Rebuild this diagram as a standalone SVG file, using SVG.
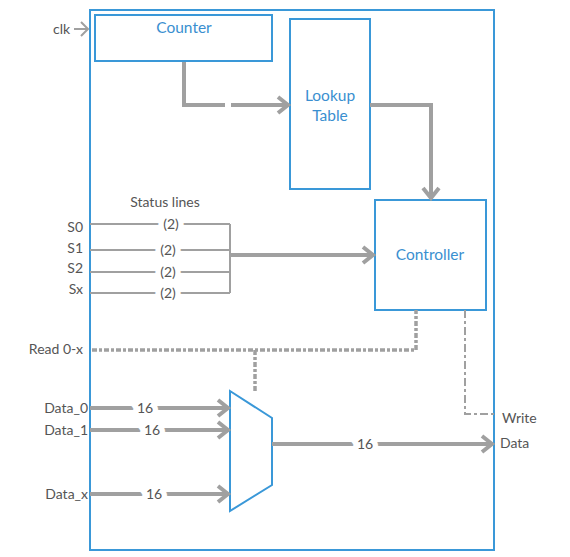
<svg xmlns="http://www.w3.org/2000/svg" width="570" height="557" viewBox="0 0 570 557">
<style>
.box{fill:none;stroke:#3a98d8;stroke-width:2}
.nl{font-family:Lato,"Noto Sans","Liberation Sans",sans-serif;font-size:15.5px;fill:#3a8fd0;text-anchor:middle}
.t{font-family:Lato,"Noto Sans","Liberation Sans",sans-serif;font-size:14px;fill:#555}
.r{text-anchor:end}
.m{text-anchor:middle}
.w{stroke:#fff;stroke-width:11;paint-order:stroke}
.thick{fill:none;stroke:#a0a0a0;stroke-width:4}
.thin{fill:none;stroke:#a0a0a0;stroke-width:2}
.dd{fill:none;stroke:#a0a0a0;stroke-width:3.5;stroke-dasharray:5 2 3 2}
.dd2{fill:none;stroke:#a0a0a0;stroke-width:2;stroke-dasharray:8 3 3 3}
</style>
<defs>
<marker id="a" markerUnits="userSpaceOnUse" markerWidth="16" markerHeight="22" refX="12" refY="10" orient="auto" overflow="visible">
<path d="M2,2 L12,10 L2,18" fill="none" stroke="#a0a0a0" stroke-width="4"/>
</marker>
<marker id="s" markerUnits="userSpaceOnUse" markerWidth="12" markerHeight="16" refX="9" refY="8" orient="auto" overflow="visible">
<path d="M2,1 L9,8 L2,15" fill="none" stroke="#a0a0a0" stroke-width="2"/>
</marker>
</defs>
<g id="outer"><rect class="box" x="90" y="10" width="404" height="540"/></g>
<g id="counter"><rect class="box" x="95" y="15" width="177" height="46"/><text class="nl" x="184" y="33">Counter</text></g>
<g id="lookup"><rect class="box" x="290" y="19" width="80" height="170"/><text class="nl" x="330" y="101">Lookup</text><text class="nl" x="330" y="121">Table</text></g>
<g id="controller"><rect class="box" x="375" y="200" width="111" height="110"/><text class="nl" x="430" y="260">Controller</text></g>
<g id="mux"><polygon class="box" points="230,391 272,418 272,485 230,511"/></g>
<g id="connectors">
<path class="thin" d="M74,29 H88" marker-end="url(#s)"/>
<path class="thick" d="M184,62 V105 H225"/>
<path class="thick" d="M231,105 H288" marker-end="url(#a)"/>
<path class="thick" d="M370,105 H431 V198" marker-end="url(#a)"/>
<path class="thin" d="M90,224 H230 M90,250 H230 M90,272 H230 M90,293 H230 M230,224 V293"/>
<path class="thick" d="M230,255 H373" marker-end="url(#a)"/>
<path class="dd" d="M92,350 H416 V310"/>
<path class="dd" d="M255,350 V393"/>
<path class="dd2" d="M465,310 V414 H494"/>
<path class="thick" d="M90,408 H228" marker-end="url(#a)"/>
<path class="thick" d="M90,430 H228" marker-end="url(#a)"/>
<path class="thick" d="M90,494 H228" marker-end="url(#a)"/>
<path class="thick" d="M272,444 H492" marker-end="url(#a)"/>
</g>
<g id="labels">
<text class="t" x="53" y="34">clk</text>
<text class="t m" x="165" y="207">Status lines</text>
<text class="t r" x="83" y="232">S0</text>
<text class="t r" x="83" y="253">S1</text>
<text class="t r" x="83" y="273">S2</text>
<text class="t r" x="83" y="294">Sx</text>
<text class="t m w" x="171" y="229">(2)</text>
<text class="t m w" x="168" y="255">(2)</text>
<text class="t m w" x="168" y="277">(2)</text>
<text class="t m w" x="168" y="298">(2)</text>
<text class="t r" x="83" y="354">Read 0-x</text>
<text class="t r" x="88" y="413">Data_0</text>
<text class="t r" x="88" y="435">Data_1</text>
<text class="t r" x="88" y="499">Data_x</text>
<text class="t m w" x="145" y="413">16</text>
<text class="t m w" x="152" y="435">16</text>
<text class="t m w" x="154" y="499">16</text>
<text class="t m w" x="365" y="449">16</text>
<text class="t" x="502" y="423">Write</text>
<text class="t" x="500" y="448">Data</text>
</g>
</svg>
